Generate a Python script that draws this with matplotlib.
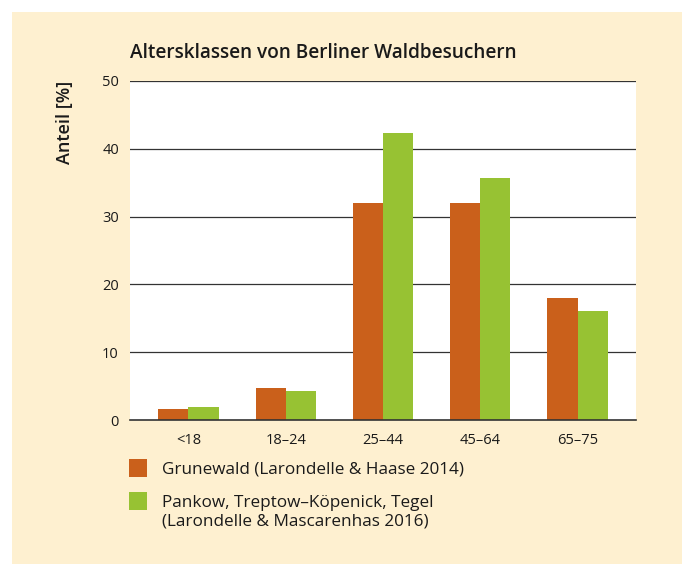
import matplotlib
matplotlib.use("Agg")
import numpy as np
import matplotlib.pyplot as plt
from matplotlib.patches import Rectangle

# data
categories = ["<18", "18-24", "25-44", "45-64", "65-75"]
grunewald = [1.6, 4.7, 32.0, 32.0, 18.0]
pankow = [1.9, 4.3, 42.3, 35.7, 16.1]
labels = [
    "Grunewald (Larondelle & Haase 2014)",
    "Pankow, Treptow-Köpenick, Tegel\n(Larondelle & Mascarenhas 2016)",
]
y_ticks = [0, 10, 20, 30, 40, 50]

ORANGE = "#CA601B"
GREEN = "#97C233"
BEIGE = "#FEF0D0"
TEXT = "#1a1a1a"

plt.rcParams["font.family"] = ["Open Sans", "DejaVu Sans"]

fig = plt.figure(figsize=(6.82, 5.64), dpi=100, facecolor="white")
W, H = 682, 564

# beige panel behind everything
fig.add_artist(Rectangle((12 / W, 0), 1 - 12 / W, 1 - 12 / H,
                         transform=fig.transFigure, facecolor=BEIGE,
                         edgecolor="none", zorder=-10))

ax = fig.add_axes([130 / W, 1 - 420 / H, 506 / W, 339 / H])
ax.set_facecolor("white")

x = np.arange(len(categories))
bw = 0.31
ax.bar(x - bw / 2, grunewald, width=bw, color=ORANGE, zorder=3)
ax.bar(x + bw / 2, pankow, width=bw, color=GREEN, zorder=3)

ax.set_xlim(-0.6, len(categories) - 0.4)
ax.set_ylim(0, 50)
ax.set_yticks(y_ticks)
ax.set_xticks(x)
ax.set_xticklabels([c.replace("-", "–") for c in categories])
ax.tick_params(axis="both", length=0, labelsize=10.5, colors=TEXT)
ax.tick_params(axis="y", pad=8)
ax.tick_params(axis="x", pad=9)

for yv in y_ticks[1:]:
    ax.axhline(yv, color="#333333", linewidth=0.9, zorder=1)

for s in ["top", "right", "left"]:
    ax.spines[s].set_visible(False)
ax.spines["bottom"].set_color("#333333")
ax.spines["bottom"].set_linewidth(1.2)
ax.spines["bottom"].set_zorder(4)

fig.text(130 / W, 1 - 53 / H, "Altersklassen von Berliner Waldbesuchern",
         fontsize=13.7, fontweight="semibold", color=TEXT,
         va="center", ha="left")
fig.text(65 / W, 1 - 81 / H, "Anteil [%]", rotation=90, fontsize=13,
         fontweight="semibold", color=TEXT, va="top", ha="center")

# legend
colors = [ORANGE, GREEN]
tops = [459, 492]
for col, top, lab in zip(colors, tops, labels):
    fig.add_artist(Rectangle((129 / W, 1 - (top + 18) / H), 18 / W, 18 / H,
                             transform=fig.transFigure, facecolor=col,
                             edgecolor="none"))
    fig.text(162 / W, 1 - (top + 3) / H, lab.replace("-", "–"), fontsize=12.3,
             color=TEXT, va="top", ha="left", linespacing=1.25)

fig.savefig("out.png", dpi=100, facecolor=fig.get_facecolor())
